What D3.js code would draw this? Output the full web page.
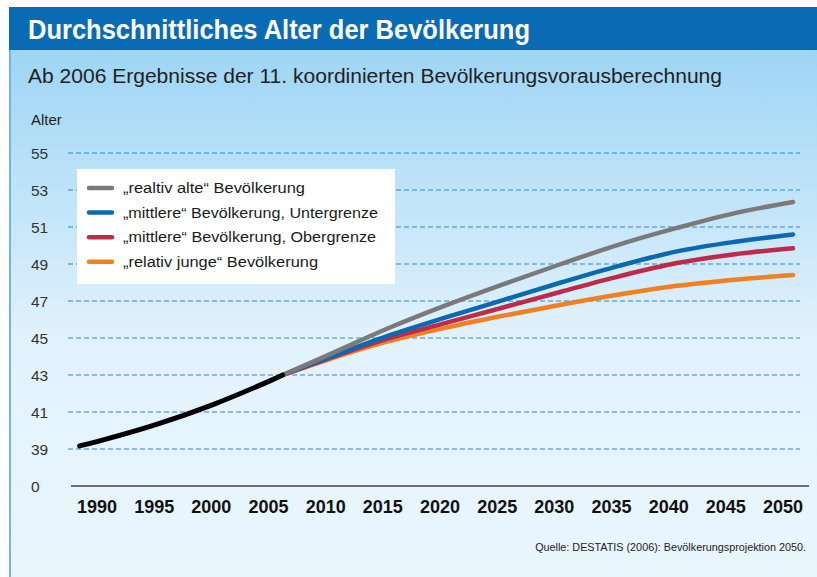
<!DOCTYPE html>
<html><head><meta charset="utf-8">
<script src="https://cdn.jsdelivr.net/npm/d3@7"></script>
<style>html,body{margin:0;padding:0;background:#fff;}svg{display:block;}</style>
</head><body><svg id="c" width="817" height="577"></svg>
<script>
// ---- data ----
const titleText = "Durchschnittliches Alter der Bevölkerung";
const subtitleText = "Ab 2006 Ergebnisse der 11. koordinierten Bevölkerungsvorausberechnung";
const yAxisTitle = "Alter";
const sourceText = "Quelle: DESTATIS (2006): Bevölkerungsprojektion 2050.";
const xTickYears = [1990,1995,2000,2005,2010,2015,2020,2025,2030,2035,2040,2045,2050];
const yTickValues = [39,41,43,45,47,49,51,53,55];
const yBreakLabel = "0";
const histYears  = [1988.5,1990,1995,2000,2005,2006];
const histValues = [39.17,39.4,40.3,41.4,42.71,43.0];
const projYears = [2006,2010,2015,2020,2025,2030,2035,2040,2045,2050];
const seriesNames = ["\u201Erealtiv alte\u201C Bevölkerung","\u201Emittlere\u201C Bevölkerung, Untergrenze","\u201Emittlere\u201C Bevölkerung, Obergrenze","\u201Erelativ junge\u201C Bevölkerung"];
const relAlteValues   = [43.0,44.1,45.5,46.75,47.9,49.0,50.05,50.95,51.75,52.35];
const untergrenzeValues = [43.0,43.95,45.1,46.1,47.05,48.0,48.9,49.68,50.2,50.6];
const obergrenzeValues  = [43.0,43.9,44.95,45.8,46.65,47.5,48.33,49.05,49.53,49.85];
const relJungeValues  = [43.0,43.85,44.8,45.55,46.2,46.8,47.35,47.82,48.15,48.4];
const seriesColors = ["#7a7a7a","#0b69b3","#be2a48","#f08020"];
const legendWidths = [182,255,253,195];

// ---- drawing ----
const svg = d3.select("#c");
const FONT = "'Liberation Sans', Arial, sans-serif";
const defs = svg.append("defs");
const grad = defs.append("linearGradient").attr("id","bg").attr("x1",0).attr("y1",0).attr("x2",0).attr("y2",1);
[[0,"#9ed5f5"],[0.3,"#c3e5f9"],[0.55,"#e2f2fd"],[1,"#eaf6fe"]].forEach(s=>grad.append("stop").attr("offset",s[0]).attr("stop-color",s[1]));

svg.append("rect").attr("x",0).attr("y",0).attr("width",817).attr("height",577).attr("fill","#fff");
svg.append("rect").attr("x",9).attr("y",50).attr("width",808).attr("height",527).attr("fill","url(#bg)");
svg.append("rect").attr("x",9).attr("y",50).attr("width",2).attr("height",527).attr("fill","#6fb6e3");
svg.append("rect").attr("x",9).attr("y",7).attr("width",808).attr("height",43).attr("fill","#0a6bb5");

svg.append("text").attr("x",28).attr("y",39).attr("fill","#fff").attr("font-family",FONT)
  .attr("font-weight","bold").attr("font-size",27).attr("textLength",502).attr("lengthAdjust","spacingAndGlyphs").text(titleText);
svg.append("text").attr("x",28).attr("y",83).attr("fill","#222").attr("font-family",FONT)
  .attr("font-size",20).attr("textLength",694).attr("lengthAdjust","spacingAndGlyphs").text(subtitleText);
svg.append("text").attr("x",31).attr("y",125).attr("fill","#222").attr("font-family",FONT)
  .attr("font-size",15).text(yAxisTitle);

const y = d3.scaleLinear().domain([37,55]).range([486,153]);
const x = d3.scaleLinear().domain([1990,2050]).range([97,793]);
const xLab = d3.scaleLinear().domain([1990,2050]).range([97,783]);

// gridlines
svg.append("g").selectAll("line").data(yTickValues).join("line")
  .attr("x1",68).attr("x2",800).attr("y1",d=>y(d)).attr("y2",d=>y(d))
  .attr("stroke","#2f86c9").attr("stroke-width",1.2).attr("stroke-dasharray","5,3");

// y labels
svg.append("g").selectAll("text").data(yTickValues).join("text")
  .attr("x",31).attr("y",d=>y(d)+5.5).attr("fill","#333").attr("font-family",FONT).attr("font-size",15.5)
  .text(d=>d);
svg.append("text").attr("x",31).attr("y",y(37)+5.5).attr("fill","#333").attr("font-family",FONT).attr("font-size",15.5).text(yBreakLabel);

// baseline axis
svg.append("line").attr("x1",71).attr("x2",809).attr("y1",y(37)).attr("y2",y(37)).attr("stroke","#6e6e6e").attr("stroke-width",2);

// x labels
svg.append("g").selectAll("text").data(xTickYears).join("text")
  .attr("x",d=>xLab(d)).attr("y",513).attr("text-anchor","middle").attr("fill","#111")
  .attr("font-family",FONT).attr("font-weight","bold").attr("font-size",18).text(d=>d);

// legend box
svg.append("rect").attr("x",77).attr("y",169).attr("width",318).attr("height",115).attr("fill","#fff");
const lg = svg.append("g");
seriesNames.forEach((n,i)=>{
  const cy = 188 + i*24.6;
  lg.append("line").attr("x1",89).attr("x2",112).attr("y1",cy).attr("y2",cy).attr("stroke",seriesColors[i])
    .attr("stroke-width",4.5).attr("stroke-linecap","round");
  lg.append("text").attr("x",123).attr("y",cy+5).attr("fill","#1a1a1a").attr("font-family",FONT).attr("font-size",15.5)
    .attr("textLength",legendWidths[i]).attr("lengthAdjust","spacingAndGlyphs").text(n);
});

// lines
const line = d3.line().x(d=>x(d[0])).y(d=>y(d[1])).curve(d3.curveCatmullRom.alpha(0.5));
const projSeries = [relAlteValues, untergrenzeValues, obergrenzeValues, relJungeValues];
[3,2,1,0].forEach(i=>{
  svg.append("path").attr("d",line(projYears.map((yr,j)=>[yr,projSeries[i][j]])))
    .attr("fill","none").attr("stroke",seriesColors[i]).attr("stroke-width",4.5).attr("stroke-linecap","round");
});
svg.append("path").attr("d",line(histYears.map((yr,j)=>[yr,histValues[j]])))
  .attr("fill","none").attr("stroke","#000").attr("stroke-width",5).attr("stroke-linecap","round");

// source
svg.append("text").attr("x",806).attr("y",551).attr("text-anchor","end").attr("fill","#222")
  .attr("font-family",FONT).attr("font-size",10.8).text(sourceText);
</script></body></html>
